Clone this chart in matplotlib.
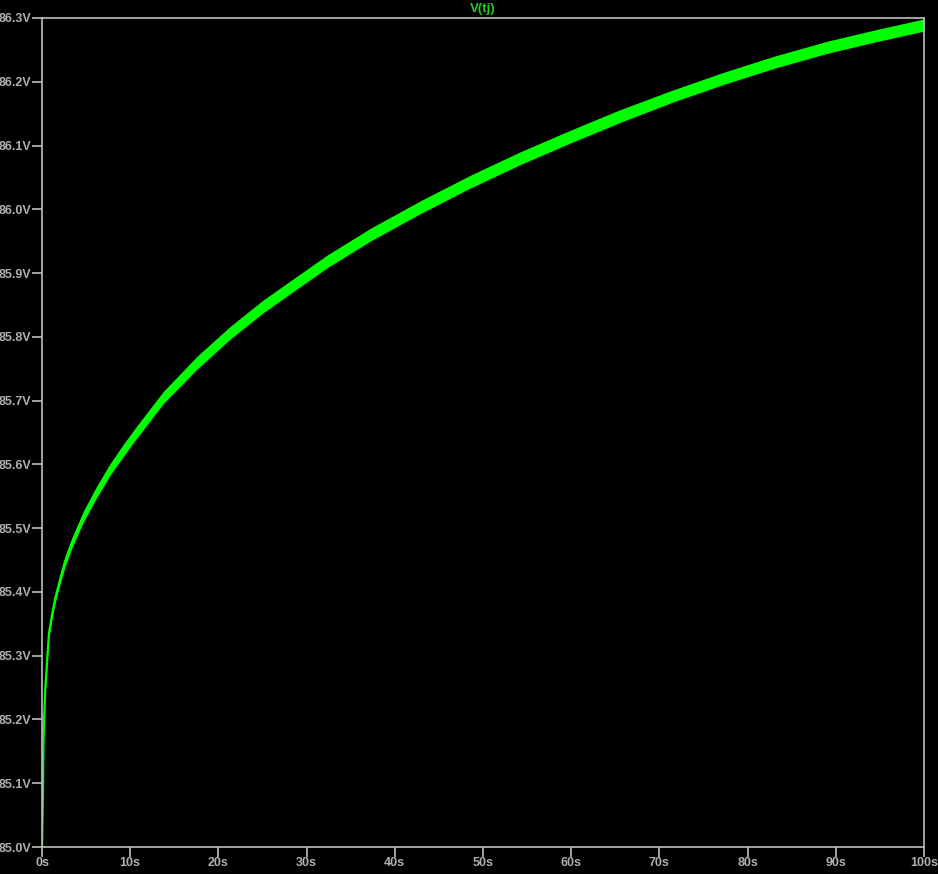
import numpy as np
import matplotlib
matplotlib.use("Agg")
import matplotlib.pyplot as plt
from matplotlib.ticker import FuncFormatter

# V(tj) (seconds, volts)
t_s = [0, 0.05, 0.11, 0.17, 0.34, 0.57, 0.79, 1.10, 1.5, 2.04, 2.6, 3.36,
       4.68, 6.2, 7.71, 9.22, 10.54, 13.76, 17.54, 21.3, 25.1, 28.9, 32.3,
       37.2, 42.86, 48.5, 54.2, 59.9, 65.5, 71.4, 77.2, 83.1, 89.0, 94.8,
       100]
v_mid = [85.00, 85.04, 85.085, 85.17, 85.24, 85.29, 85.335, 85.361, 85.39,
         85.419, 85.447, 85.476, 85.518, 85.557, 85.592, 85.622, 85.647,
         85.705, 85.759, 85.806, 85.848, 85.885, 85.918, 85.960, 86.003,
         86.043, 86.080, 86.114, 86.146, 86.177, 86.205, 86.231, 86.254,
         86.273, 86.289]
# half height of the ripple band
v_ripple = [0.0, 0.001, 0.002, 0.003, 0.004, 0.005, 0.006, 0.006, 0.007,
            0.007, 0.008, 0.008, 0.0085, 0.009, 0.009, 0.0095, 0.0095,
            0.0095, 0.01, 0.01, 0.01, 0.01, 0.01, 0.01, 0.01, 0.01, 0.01,
            0.01, 0.01, 0.0095, 0.0095, 0.0095, 0.0095, 0.0095, 0.0095]

x_ticks = list(range(0, 101, 10))
y_ticks = [85.0, 85.1, 85.2, 85.3, 85.4, 85.5, 85.6, 85.7, 85.8, 85.9,
           86.0, 86.1, 86.2, 86.3]

grey = "#bdbdbd"
green = "#00ff00"

fig = plt.figure(figsize=(9.38, 8.74), dpi=100, facecolor="black")
ax = fig.add_axes([42/938, 27/874, 882/938, 829/874], facecolor="black")

t = np.array(t_s)
mid = np.array(v_mid)
rip = np.array(v_ripple)
ax.fill_between(t, mid - rip, mid + rip, color=green, linewidth=0)
ax.plot(t, mid, color=green, linewidth=1.6, solid_capstyle="butt",
        solid_joinstyle="round")

ax.set_xlim(0, 100)
ax.set_ylim(85.0, 86.3)
ax.set_xticks(x_ticks)
ax.set_yticks(y_ticks)
ax.xaxis.set_major_formatter(FuncFormatter(lambda v, p: "%ds" % v))
ax.yaxis.set_major_formatter(FuncFormatter(lambda v, p: "%.1fV" % v))

for s in ax.spines.values():
    s.set_color(grey)
    s.set_linewidth(1.2)
ax.tick_params(axis="both", direction="out", length=7, width=1.2,
               color=grey, labelcolor="#b0b0b0", labelsize=9, pad=0.5)
for lab in ax.get_xticklabels() + ax.get_yticklabels():
    lab.set_fontfamily("Liberation Sans")
    lab.set_fontweight("bold")

fig.text(483/938, 1 - 9/874, "V(tj)", color="#22cc22", ha="center",
         va="center", fontsize=9.5, fontweight="bold",
         family="Liberation Sans")

fig.savefig("out.png", dpi=100, facecolor="black")
